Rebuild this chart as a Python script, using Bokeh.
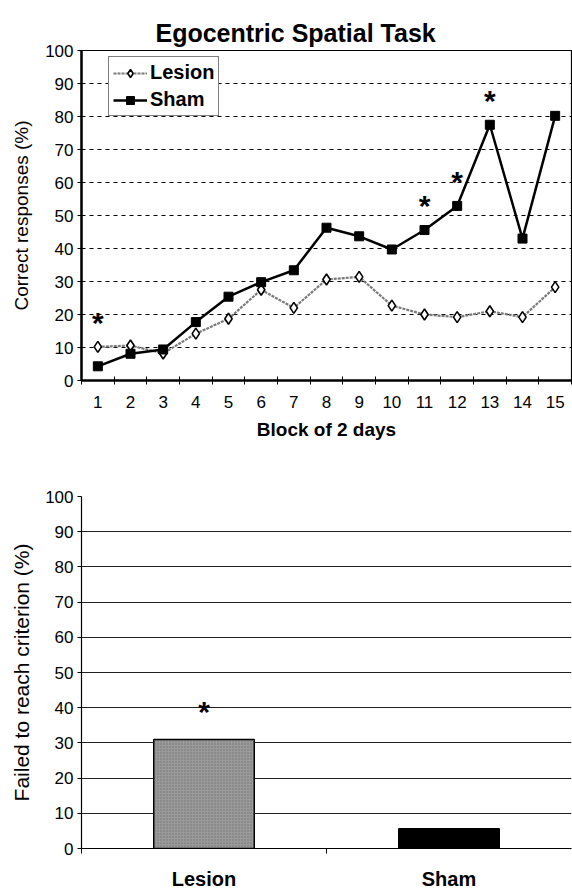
from bokeh.plotting import figure
from bokeh.layouts import column
from bokeh.models import FixedTicker, Legend, LegendItem, ColumnDataSource
from bokeh.core.properties import value
from bokeh.embed import file_html
from bokeh.resources import INLINE

# ---------------- data ----------------
blocks = list(range(1, 16))
lesion_pct = [10.2, 10.6, 8.2, 14.2, 18.7, 27.5, 22.0, 30.6, 31.4, 22.7, 20.0, 19.2, 21.0, 19.2, 28.3]
sham_pct = [4.3, 8.1, 9.4, 17.7, 25.4, 29.8, 33.4, 46.3, 43.7, 39.7, 45.6, 52.9, 77.5, 43.0, 80.2]
star_blocks = [1, 11, 12, 13]
star_offset = 7.5

groups = ["Lesion", "Sham"]
failed_pct = [31.0, 5.6]
bar_colors = ["#9a9a9a", "#000000"]
bar_star_groups = ["Lesion"]

y_ticks = list(range(0, 101, 10))
FONT = "Liberation Sans"

# ---------------- top chart ----------------
p1 = figure(width=572, height=442, x_range=(0.5, 15.5), y_range=(0, 100),
            output_backend="svg", toolbar_location=None,
            min_border_left=81, min_border_right=1, min_border_top=50, min_border_bottom=10)
p1.title.text = "Egocentric Spatial Task"
p1.title.text_font = FONT
p1.title.text_font_size = "25px"
p1.title.text_font_style = "bold"
p1.title.text_color = "black"
p1.title.align = "left"
p1.title.offset = 74
p1.title.standoff = 8
p1.background_fill_color = "white"
p1.border_fill_color = "white"
p1.outline_line_color = "black"
p1.outline_line_width = 1.2

p1.xgrid.visible = False
p1.ygrid.ticker = FixedTicker(ticks=y_ticks)
p1.ygrid.grid_line_color = "black"
p1.ygrid.grid_line_dash = "4 4"
p1.ygrid.grid_line_width = 1

p1.xaxis.ticker = FixedTicker(ticks=blocks, minor_ticks=[b - 0.5 for b in blocks] + [blocks[-1] + 0.5])
p1.xaxis.major_tick_line_color = None
p1.xaxis.minor_tick_line_color = "black"
p1.xaxis.minor_tick_in = 4
p1.xaxis.minor_tick_out = 4
p1.xaxis.minor_tick_line_width = 1
p1.xaxis.axis_line_width = 2.5
p1.xaxis.axis_line_color = "black"
p1.xaxis.major_label_text_font = FONT
p1.xaxis.major_label_text_font_size = "17px"
p1.xaxis.major_label_text_color = "black"
p1.xaxis.major_label_standoff = 9
p1.xaxis.axis_label = "Block of 2 days"
p1.xaxis.axis_label_text_font = FONT
p1.xaxis.axis_label_text_font_size = "19px"
p1.xaxis.axis_label_text_font_style = "bold"
p1.xaxis.axis_label_text_color = "black"
p1.xaxis.axis_label_standoff = 8

p1.yaxis.ticker = FixedTicker(ticks=y_ticks)
p1.yaxis.minor_tick_line_color = None
p1.yaxis.major_tick_in = 0
p1.yaxis.major_tick_out = 4
p1.yaxis.major_tick_line_color = "black"
p1.yaxis.axis_line_width = 2.5
p1.yaxis.axis_line_color = "black"
p1.yaxis.major_label_text_font = FONT
p1.yaxis.major_label_text_font_size = "17px"
p1.yaxis.major_label_text_color = "black"
p1.yaxis.major_label_standoff = 4
p1.yaxis.axis_label = "Correct responses (%)"
p1.yaxis.axis_label_text_font = FONT
p1.yaxis.axis_label_text_font_size = "19px"
p1.yaxis.axis_label_text_font_style = "normal"
p1.yaxis.axis_label_text_color = "black"
p1.yaxis.axis_label_standoff = 10

src = ColumnDataSource(dict(block=blocks, lesion=lesion_pct, sham=sham_pct))
l_line = p1.line("block", "lesion", source=src, line_color="#7a7a7a", line_width=2.2, line_dash="3 1")
l_mark = p1.scatter("block", "lesion", source=src, marker="diamond", size=11,
                    fill_color="white", line_color="black", line_width=1.6)
s_line = p1.line("block", "sham", source=src, line_color="black", line_width=2.5)
s_mark = p1.scatter("block", "sham", source=src, marker="square", size=9,
                    fill_color="black", line_color="black")

star_y = [max(lesion_pct[blocks.index(b)], sham_pct[blocks.index(b)]) + star_offset for b in star_blocks]
p1.text(x=star_blocks, y=star_y, text=["*"] * len(star_blocks),
        text_font=value(FONT), text_font_size="30px", text_font_style="bold",
        text_align="center", text_baseline="middle", text_color="black")

legend = Legend(items=[LegendItem(label="Lesion", renderers=[l_line, l_mark]),
                       LegendItem(label="Sham", renderers=[s_line, s_mark])],
                location=(27, 264))
legend.label_text_font = FONT
legend.label_text_font_size = "20px"
legend.label_text_font_style = "bold"
legend.label_text_color = "black"
legend.glyph_width = 34
legend.glyph_height = 20
legend.label_standoff = 3
legend.label_height = 20
legend.spacing = 4
legend.padding = 4
legend.margin = 0
legend.border_line_color = "black"
legend.border_line_width = 1
legend.background_fill_color = "white"
legend.background_fill_alpha = 1
p1.add_layout(legend)

# ---------------- bottom chart ----------------
xs = [i + 1 for i in range(len(groups))]
p2 = figure(width=572, height=450, x_range=(0.5, len(groups) + 0.5), y_range=(0, 100),
            output_backend="svg", toolbar_location=None,
            min_border_left=81, min_border_right=1, min_border_top=54, min_border_bottom=10)
p2.outline_line_color = None
p2.background_fill_color = "white"
p2.border_fill_color = "white"
p2.xgrid.visible = False
p2.ygrid.ticker = FixedTicker(ticks=y_ticks)
p2.ygrid.grid_line_color = "#222222"
p2.ygrid.grid_line_width = 1.2

bsrc = ColumnDataSource(dict(x=xs, v=failed_pct, c=bar_colors, g=groups))
p2.vbar(x="x", top="v", width=0.41, source=bsrc, fill_color="c", line_color="black", line_width=1.5)
p2.vbar(x=[xs[0]], top=[failed_pct[0]], width=0.41, fill_color=None, line_color=None,
        hatch_pattern="dot", hatch_color="#555555", hatch_scale=3, hatch_alpha=0.6)

bstar_x = [xs[groups.index(g)] for g in bar_star_groups]
bstar_y = [failed_pct[groups.index(g)] + 8 for g in bar_star_groups]
p2.text(x=bstar_x, y=bstar_y, text=["*"] * len(bstar_x),
        text_font=value(FONT), text_font_size="30px", text_font_style="bold",
        text_align="center", text_baseline="middle", text_color="black")

p2.xaxis.ticker = FixedTicker(ticks=xs, minor_ticks=[x - 0.5 for x in xs])
p2.xaxis.major_label_overrides = {x: g for x, g in zip(xs, groups)}
p2.xaxis.major_tick_line_color = None
p2.xaxis.minor_tick_line_color = "black"
p2.xaxis.minor_tick_in = 0
p2.xaxis.minor_tick_out = 5
p2.xaxis.axis_line_color = "black"
p2.xaxis.axis_line_width = 1.2
p2.xaxis.major_label_text_font = FONT
p2.xaxis.major_label_text_font_size = "20px"
p2.xaxis.major_label_text_font_style = "bold"
p2.xaxis.major_label_text_color = "black"
p2.xaxis.major_label_standoff = 13

p2.yaxis.ticker = FixedTicker(ticks=y_ticks)
p2.yaxis.minor_tick_line_color = None
p2.yaxis.major_tick_in = 0
p2.yaxis.major_tick_out = 4
p2.yaxis.axis_line_color = "black"
p2.yaxis.axis_line_width = 1.2
p2.yaxis.major_label_text_font = FONT
p2.yaxis.major_label_text_font_size = "17px"
p2.yaxis.major_label_text_color = "black"
p2.yaxis.major_label_standoff = 4
p2.yaxis.axis_label = "Failed to reach criterion (%)"
p2.yaxis.axis_label_text_font = FONT
p2.yaxis.axis_label_text_font_size = "21px"
p2.yaxis.axis_label_text_font_style = "normal"
p2.yaxis.axis_label_text_color = "black"
p2.yaxis.axis_label_standoff = 9

layout = column(p1, p2, spacing=0)
open("out.html", "w").write(file_html(layout, INLINE))
